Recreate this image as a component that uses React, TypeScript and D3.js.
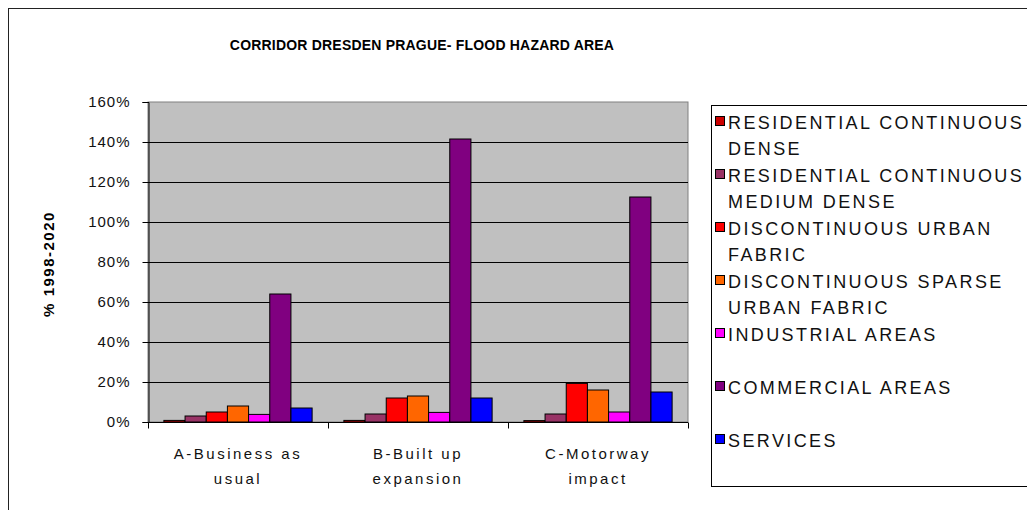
import React, { useEffect, useRef } from 'react';
import * as d3 from 'd3';

// category labels (two lines each, like the original)
const categories = ['A-Business as usual', 'B-Built up expansion', 'C-Motorway impact'];
const categoryLines = [['A-Business as', 'usual'], ['B-Built up', 'expansion'], ['C-Motorway', 'impact']];

// series values, % 1998-2020
const resContDense = [0.8, 0.8, 0.7];
const resContMedium = [3, 4, 4];
const discUrban = [5, 12, 19.3];
const discSparse = [8, 13, 16];
const industrial = [3.8, 4.8, 5];
const commercial = [64, 141.5, 112.5];
const services = [7, 12, 15];

const seriesNames = [
  'RESIDENTIAL CONTINUOUS DENSE',
  'RESIDENTIAL CONTINUOUS MEDIUM DENSE',
  'DISCONTINUOUS URBAN FABRIC',
  'DISCONTINUOUS SPARSE URBAN FABRIC',
  'INDUSTRIAL AREAS',
  'COMMERCIAL AREAS',
  'SERVICES',
];
const legendLines = [
  ['RESIDENTIAL CONTINUOUS', 'DENSE'],
  ['RESIDENTIAL CONTINUOUS', 'MEDIUM DENSE'],
  ['DISCONTINUOUS URBAN', 'FABRIC'],
  ['DISCONTINUOUS SPARSE', 'URBAN FABRIC'],
  ['INDUSTRIAL AREAS'],
  ['COMMERCIAL AREAS'],
  ['SERVICES'],
];
const seriesValues = [resContDense, resContMedium, discUrban, discSparse, industrial, commercial, services];
const seriesColors = ['#cc0000', '#993366', '#ff0000', '#ff6600', '#ff00ff', '#800080', '#0000ff'];
const yTicks = [0, 20, 40, 60, 80, 100, 120, 140, 160];

const App = () => {
  const svgRef = useRef<SVGSVGElement>(null);

  useEffect(() => {
    const svg = d3.select(svgRef.current);
    svg.selectAll('*').remove();
    const font = 'Arial, "Liberation Sans", sans-serif';

    // chart frame
    svg.append('rect')
      .attr('x', 8.5).attr('y', 8.5)
      .attr('width', 1100).attr('height', 600)
      .attr('fill', '#fff').attr('stroke', '#222');

    svg.append('text')
      .attr('x', 422).attr('y', 50)
      .attr('text-anchor', 'middle')
      .attr('font-family', font).attr('font-weight', 'bold').attr('font-size', 14).attr('letter-spacing', 0.2)
      .text('CORRIDOR DRESDEN PRAGUE- FLOOD HAZARD AREA');

    const left = 148, right = 688, top = 102, bottom = 422;

    const x0 = d3.scaleBand().domain(categories).range([left, right]).padding(0);
    const x1 = d3.scaleBand().domain(seriesNames).range([0, x0.bandwidth()]).paddingInner(0).paddingOuter(0.75);
    const y = d3.scaleLinear().domain([0, 160]).range([bottom, top]);

    // plot area
    svg.append('rect')
      .attr('x', left).attr('y', top)
      .attr('width', right - left).attr('height', bottom - top)
      .attr('fill', '#c0c0c0').attr('stroke', '#808080');

    // gridlines
    svg.append('g').selectAll('line')
      .data(yTicks.filter(t => t > 0 && t < 160))
      .enter().append('line')
        .attr('x1', left).attr('x2', right)
        .attr('y1', d => Math.round(y(d)) + 0.5).attr('y2', d => Math.round(y(d)) + 0.5)
        .attr('stroke', '#000');

    // bars
    const groups = svg.append('g').selectAll('g')
      .data(categories)
      .enter().append('g')
        .attr('transform', d => `translate(${x0(d)},0)`);
    groups.selectAll('rect')
      .data((d, i) => seriesNames.map((s, j) => ({ s, v: seriesValues[j][i], c: seriesColors[j] })))
      .enter().append('rect')
        .attr('x', d => x1(d.s)!)
        .attr('y', d => y(d.v))
        .attr('width', x1.bandwidth())
        .attr('height', d => bottom - y(d.v))
        .attr('fill', d => d.c)
        .attr('stroke', '#000').attr('stroke-width', 1);

    // y axis
    const yAxis = svg.append('g')
      .attr('transform', `translate(${left + 0.5},0)`)
      .call(d3.axisLeft(y).tickValues(yTicks).tickSize(6).tickPadding(12).tickFormat(d => `${d}%`));
    yAxis.select('.domain').attr('stroke', '#000');
    yAxis.selectAll('.tick line').attr('stroke', '#000');
    yAxis.selectAll('text')
      .attr('font-family', font).attr('font-size', 15).attr('letter-spacing', 1).attr('fill', '#111');

    // x axis
    const xAxis = svg.append('g').attr('transform', `translate(0,${bottom + 0.5})`);
    xAxis.append('line').attr('x1', left).attr('x2', right).attr('stroke', '#000');
    xAxis.selectAll('line.tk')
      .data([left, ...categories.map(c => x0(c)! + x0.bandwidth())])
      .enter().append('line')
        .attr('class', 'tk')
        .attr('x1', d => d + 0.5).attr('x2', d => d + 0.5)
        .attr('y1', 0).attr('y2', 6)
        .attr('stroke', '#000');
    categories.forEach((c, i) => {
      categoryLines[i].forEach((ln, k) => {
        xAxis.append('text')
          .attr('x', x0(c)! + x0.bandwidth() / 2)
          .attr('y', 36 + k * 25)
          .attr('text-anchor', 'middle')
          .attr('font-family', font).attr('font-size', 15).attr('letter-spacing', 2.5)
          .attr('fill', '#111')
          .text(ln);
      });
    });

    // y title
    svg.append('text')
      .attr('transform', 'translate(54,264) rotate(-90)')
      .attr('text-anchor', 'middle')
      .attr('font-family', font).attr('font-weight', 'bold').attr('font-size', 15).attr('letter-spacing', 1.5)
      .text('% 1998-2020');

    // legend
    const legend = svg.append('g');
    legend.append('rect')
      .attr('x', 711.5).attr('y', 105.5)
      .attr('width', 400).attr('height', 381)
      .attr('fill', '#fff').attr('stroke', '#000');
    legendLines.forEach((lines, i) => {
      const cy = 122 + i * 53;
      legend.append('rect')
        .attr('x', 715.5).attr('y', cy - 5.5)
        .attr('width', 9).attr('height', 9)
        .attr('fill', seriesColors[i]).attr('stroke', '#000');
      lines.forEach((ln, k) => {
        legend.append('text')
          .attr('x', 728).attr('y', cy + k * 26 + 6.5)
          .attr('font-family', font).attr('font-size', 18).attr('letter-spacing', 2.4)
          .attr('fill', '#111')
          .text(ln);
      });
    });
  }, []);

  return (
    <svg ref={svgRef} width="1027" height="510" style={{ position: 'absolute', left: 0, top: 0 }}>
    </svg>
  );
};

export default App;
